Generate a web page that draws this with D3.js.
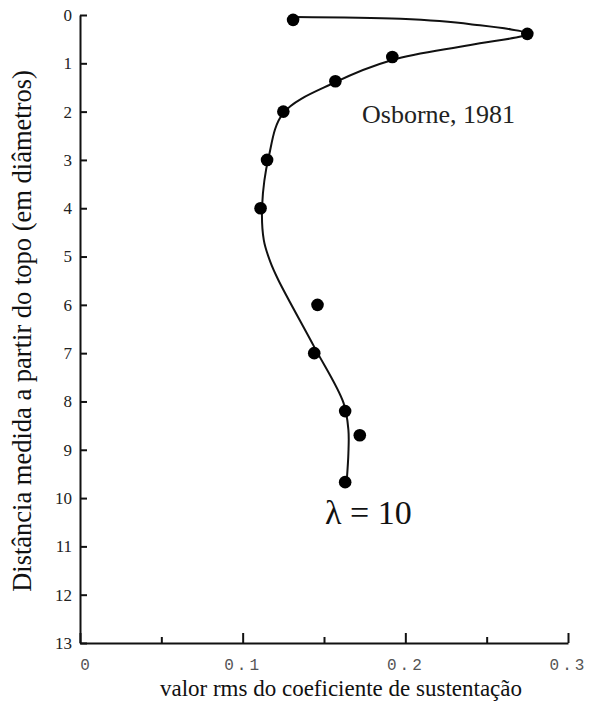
<!DOCTYPE html>
<html>
<head>
<meta charset="utf-8">
<script src="https://cdn.jsdelivr.net/npm/d3@7"></script>
<style>
  body { margin: 0; background: #fff; }
  svg { display: block; }
  .serif { font-family: "Liberation Serif", "Times New Roman", "DejaVu Serif", serif; }
</style>
</head>
<body>
<svg width="590" height="706"></svg>
<script>
// measured points (rms lift coefficient vs. distance from top, in diameters)
var pointRms   = [0.131, 0.275, 0.192, 0.157, 0.125, 0.115, 0.111, 0.146, 0.144, 0.163, 0.172, 0.163];
var pointDepth = [0.10, 0.39, 0.87, 1.37, 2.0, 3.0, 4.0, 6.0, 7.0, 8.2, 8.7, 9.67];

// fitted curve
var curveRms   = [0.132, 0.197, 0.240, 0.275, 0.240, 0.192, 0.157, 0.125, 0.116, 0.112, 0.113, 0.117, 0.122, 0.144, 0.162, 0.165, 0.165, 0.164];
var curveDepth = [0.04, 0.08, 0.19, 0.39, 0.62, 0.93, 1.39, 2.03, 2.94, 3.93, 4.66, 5.11, 5.49, 6.87, 8.03, 8.59, 9.07, 9.63];

var yTicks = [0,1,2,3,4,5,6,7,8,9,10,11,12,13];
var xTicks = [0, 0.05, 0.1, 0.15, 0.2, 0.25, 0.3];
var xLabels = [0, 0.1, 0.2, 0.3];

var svg = d3.select("svg");

var x = d3.scaleLinear().domain([0, 0.3]).range([80, 568]);
var y = d3.scaleLinear().domain([0, 13]).range([15, 643]);

//////////// AXES ////////////

var yAxis = svg.append("g")
    .attr("transform", "translate(80,0)")
    .call(d3.axisLeft(y)
        .tickValues(yTicks)
        .tickSizeInner(-7)
        .tickSizeOuter(0)
        .tickPadding(8)
        .tickFormat(d3.format("d")));
yAxis.attr("font-family", null);
yAxis.select(".domain").attr("stroke", "#111").attr("stroke-width", 2);
yAxis.selectAll(".tick line").attr("stroke", "#111").attr("stroke-width", 2);
yAxis.selectAll(".tick text")
    .attr("class", "serif")
    .style("font-size", "17px")
    .attr("fill", "#222");

var xAxis = svg.append("g")
    .attr("transform", "translate(0,643)")
    .call(d3.axisBottom(x)
        .tickValues(xTicks)
        .tickSizeInner(-10)
        .tickSizeOuter(0)
        .tickPadding(16)
        .tickFormat(function(d) { return xLabels.some(function(v){ return Math.abs(v - d) < 1e-9; }) ? d3.format("")(+d.toFixed(2)) : ""; }));
xAxis.select(".domain").attr("stroke", "#111").attr("stroke-width", 2);
xAxis.selectAll(".tick line")
    .attr("stroke", "#111")
    .attr("stroke-width", 2)
    .attr("y2", function(d) { return Math.round(d * 100) % 10 === 0 ? -10 : -6; });
xAxis.selectAll(".tick text")
    .style("font-family", "'Liberation Mono', monospace")
    .style("font-size", "16px")
    .style("letter-spacing", "3px")
    .attr("fill", "#555");
xAxis.selectAll(".tick text").filter(function(d) { return d === 0; }).attr("dx", 6);

//////////// CURVE + POINTS ////////////

var curve = curveRms.map(function(v, i) { return [v, curveDepth[i]]; });
var line = d3.line()
    .x(function(d) { return x(d[0]); })
    .y(function(d) { return y(d[1]); })
    .curve(d3.curveCatmullRom.alpha(0.5));

svg.append("path")
    .datum(curve)
    .attr("d", line)
    .attr("fill", "none")
    .attr("stroke", "#111")
    .attr("stroke-width", 2);

svg.selectAll(".pt")
    .data(pointRms.map(function(v, i) { return [v, pointDepth[i]]; }))
    .enter().append("circle")
    .attr("class", "pt")
    .attr("cx", function(d) { return x(d[0]); })
    .attr("cy", function(d) { return y(d[1]); })
    .attr("r", 6.3)
    .attr("fill", "#000");

//////////// LABELS ////////////

svg.append("text")
    .attr("class", "serif")
    .attr("transform", "translate(31,331) rotate(-90)")
    .attr("text-anchor", "middle")
    .style("font-size", "26.5px")
    .attr("fill", "#111")
    .text("Distância medida a partir do topo (em diâmetros)");

svg.append("text")
    .attr("class", "serif")
    .attr("x", 341)
    .attr("y", 696)
    .attr("text-anchor", "middle")
    .style("font-size", "23px")
    .attr("fill", "#111")
    .text("valor rms do coeficiente de sustentação");

svg.append("text")
    .attr("class", "serif")
    .attr("x", 362)
    .attr("y", 123)
    .style("font-size", "26px")
    .attr("fill", "#222")
    .text("Osborne, 1981");

svg.append("text")
    .attr("class", "serif")
    .attr("x", 325)
    .attr("y", 524)
    .style("font-size", "34px")
    .attr("fill", "#111")
    .text("λ = 10");
</script>
</body>
</html>
